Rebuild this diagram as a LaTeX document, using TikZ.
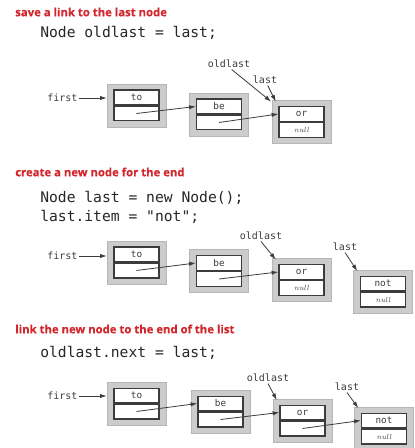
\documentclass[tikz,border=0pt]{standalone}
\usepackage{fontspec}
\setmonofont{DejaVu Sans Mono}
\newfontfamily\headfont[FakeBold=0.3]{Open Sans}
\usetikzlibrary{arrows.meta}

\definecolor{headred}{RGB}{210,40,45}
\definecolor{boxgray}{RGB}{204,204,204}
\definecolor{boxedge}{RGB}{182,182,182}
\definecolor{inkgray}{RGB}{60,60,60}

\tikzset{
  steptitle/.style={anchor=west,inner sep=0pt,text=headred,
    font=\headfont\bfseries\fontsize{8.5}{10}\selectfont},
  codeline/.style={anchor=west,inner sep=0pt,text=black!85,
    font=\ttfamily\fontsize{11}{13}\selectfont},
  pointer/.style={inner sep=1pt,text=inkgray,
    font=\ttfamily\fontsize{7.5}{9}\selectfont},
  shellbox/.style={fill=boxgray,draw=boxedge,inner sep=0pt,
    minimum width=44.25pt,minimum height=32.25pt},
  itemcell/.style={draw=inkgray,line width=1.1pt,fill=white,inner sep=0pt,
    minimum width=33.75pt,minimum height=10.9pt,anchor=south,text=inkgray,
    font=\ttfamily\fontsize{7}{8}\selectfont},
  linkcell/.style={itemcell,anchor=north,font=\itshape\fontsize{5.5}{6}\selectfont},
  linkarrow/.style={draw=inkgray,line width=0.6pt,-{Latex[length=5pt,width=3.2pt]}}
}

\begin{document}
\begin{tikzpicture}[x=0.75pt,y=-0.75pt]
  \useasboundingbox (0,0) rectangle (414,448);

  % step 1: keep a reference to the tail
  \node[steptitle] (t1) at (15,12) {save a link to the last node};
  \node[codeline] (k1) at (40,33) {Node oldlast = last;};

  \node[shellbox] (a1) at (136.5,105.5) {};
  \node[itemcell] (a1i) at (a1.center) {to};
  \node[linkcell] (a1l) at (a1.center) {};
  \node[shellbox] (a2) at (219,114.5) {};
  \node[itemcell] (a2i) at (a2.center) {be};
  \node[linkcell] (a2l) at (a2.center) {};
  \node[shellbox] (a3) at (301.5,122) {};
  \node[itemcell] (a3i) at (a3.center) {or};
  \node[linkcell] (a3l) at (a3.center) {null};

  \node[pointer,anchor=east] (f1) at (79,98) {first};
  \node[pointer] (o1) at (229,64) {oldlast};
  \node[pointer] (l1) at (265,80) {last};
  \draw[linkarrow] (f1.east) -- (f1 -| a1.west);
  \draw[linkarrow] (a1l.center) -- (a2i.west);
  \draw[linkarrow] (a2l.center) -- (a3i.west);
  \draw[linkarrow] ([xshift=2pt]o1.south) -- ([xshift=-0.5pt,yshift=-1pt]a3.north west);
  \draw[linkarrow] ([xshift=2pt]l1.south) -- ([xshift=3pt,yshift=-1pt]a3.north west);

  % step 2: a fresh node for the tail
  \node[steptitle] (t2) at (15,172) {create a new node for the end};
  \node[codeline] (k2) at (40,198) {Node last = new Node();};
  \node[codeline] (k3) at (40,217) {last.item = "not";};

  \node[shellbox] (b1) at (136.5,262.5) {};
  \node[itemcell] (b1i) at (b1.center) {to};
  \node[linkcell] (b1l) at (b1.center) {};
  \node[shellbox] (b2) at (219,271) {};
  \node[itemcell] (b2i) at (b2.center) {be};
  \node[linkcell] (b2l) at (b2.center) {};
  \node[shellbox] (b3) at (301.5,280) {};
  \node[itemcell] (b3i) at (b3.center) {or};
  \node[linkcell] (b3l) at (b3.center) {null};
  \node[shellbox] (b4) at (383,291.5) {};
  \node[itemcell] (b4i) at (b4.center) {not};
  \node[linkcell] (b4l) at (b4.center) {null};

  \node[pointer,anchor=east] (f2) at (79,256) {first};
  \node[pointer] (o2) at (261,236) {oldlast};
  \node[pointer] (l2) at (345,247) {last};
  \draw[linkarrow] (f2.east) -- (f2 -| b1.west);
  \draw[linkarrow] (b1l.center) -- (b2i.west);
  \draw[linkarrow] (b2l.center) -- (b3i.west);
  \draw[linkarrow] (o2.south) -- ([xshift=3pt,yshift=-1pt]b3.north west);
  \draw[linkarrow] (l2.south) -- ([xshift=3pt,yshift=-1pt]b4.north west);

  % step 3: hook the old tail onto the new one
  \node[steptitle] (t3) at (15,329) {link the new node to the end of the list};
  \node[codeline] (k4) at (40,353) {oldlast.next = last;};

  \node[shellbox] (c1) at (136.5,403.5) {};
  \node[itemcell] (c1i) at (c1.center) {to};
  \node[linkcell] (c1l) at (c1.center) {};
  \node[shellbox] (c2) at (220.5,411.5) {};
  \node[itemcell] (c2i) at (c2.center) {be};
  \node[linkcell] (c2l) at (c2.center) {};
  \node[shellbox] (c3) at (302.5,420.5) {};
  \node[itemcell] (c3i) at (c3.center) {or};
  \node[linkcell] (c3l) at (c3.center) {};
  \node[shellbox] (c4) at (384,428.5) {};
  \node[itemcell] (c4i) at (c4.center) {not};
  \node[linkcell] (c4l) at (c4.center) {null};

  \node[pointer,anchor=east] (f3) at (79,396) {first};
  \node[pointer] (o3) at (268,378) {oldlast};
  \node[pointer] (l3) at (347,387) {last};
  \draw[linkarrow] (f3.east) -- (f3 -| c1.west);
  \draw[linkarrow] (c1l.center) -- (c2i.west);
  \draw[linkarrow] (c2l.center) -- (c3i.west);
  \draw[linkarrow] (c3l.center) -- (c4i.west);
  \draw[linkarrow] (o3.south) -- ([xshift=3pt,yshift=-1pt]c3.north west);
  \draw[linkarrow] (l3.south) -- ([xshift=3pt,yshift=-1pt]c4.north west);
\end{tikzpicture}
\end{document}
